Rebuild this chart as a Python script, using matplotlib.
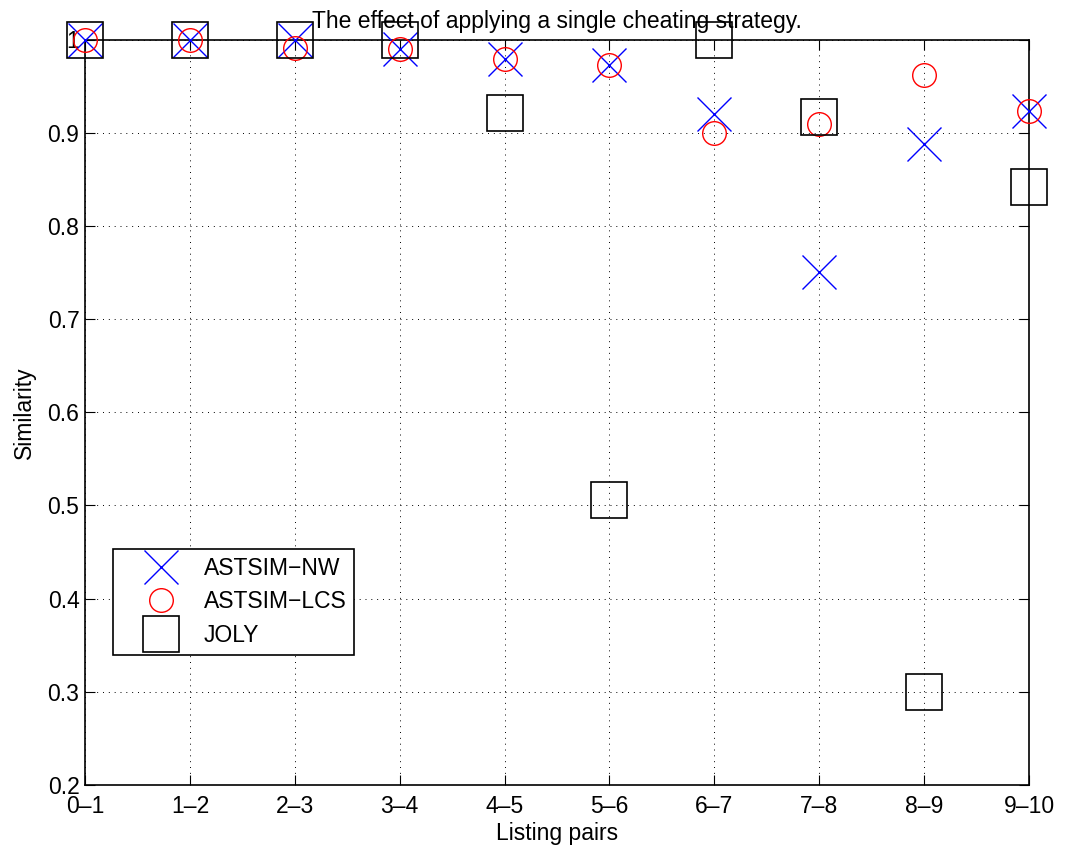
import matplotlib
matplotlib.use("Agg")
import matplotlib.pyplot as plt

plt.rcParams['font.family'] = ['Liberation Sans', 'DejaVu Sans']

pairs = ["0\u20131", "1\u20132", "2\u20133", "3\u20134", "4\u20135",
         "5\u20136", "6\u20137", "7\u20138", "8\u20139", "9\u201310"]
astsim_nw = [1.0, 1.0, 1.0, 0.990, 0.979, 0.973, 0.920, 0.750, 0.888, 0.923]
astsim_lcs = [1.0, 1.0, 0.991, 0.990, 0.979, 0.973, 0.900, 0.909, 0.962, 0.923]
joly = [1.0, 1.0, 1.0, 1.0, 0.921, 0.506, 1.0, 0.917, 0.300, 0.842]
y_ticks = [0.2, 0.3, 0.4, 0.5, 0.6, 0.7, 0.8, 0.9, 1.0]
y_tick_labels = ["0.2", "0.3", "0.4", "0.5", "0.6", "0.7", "0.8", "0.9", "1"]

FS = 16.5

fig = plt.figure(figsize=(10.67, 8.49), dpi=100)
ax = fig.add_axes([85 / 1067, 1 - 785 / 849, (1029 - 85) / 1067, (785 - 39.5) / 849])

x = list(range(len(pairs)))
ax.plot(x, astsim_nw, linestyle='none', marker='x', markersize=24,
        markeredgewidth=1.0, color='#0000ff', label='ASTSIM\u2212NW', clip_on=False, zorder=3)
ax.plot(x, astsim_lcs, linestyle='none', marker='o', markersize=17,
        markeredgewidth=1.0, markerfacecolor='none', markeredgecolor='#ff0000',
        label='ASTSIM\u2212LCS', clip_on=False, zorder=3)
ax.plot(x, joly, linestyle='none', marker='s', markersize=26,
        markeredgewidth=1.2, markerfacecolor='none', markeredgecolor='black',
        label='JOLY', clip_on=False, zorder=3)

ax.set_xlim(0, len(pairs) - 1)
ax.set_ylim(0.2, 1.0)
ax.set_xticks(x)
ax.set_xticklabels(pairs)
ax.set_yticks(y_ticks)
ax.set_yticklabels(y_tick_labels)
ax.tick_params(direction='in', length=7, width=0.8, top=True, right=True,
               labelsize=FS, colors='black')
ax.tick_params(axis='x', pad=7)
ax.tick_params(axis='y', pad=4)
ax.grid(True, linestyle=(0, (1, 5)), color='black', linewidth=0.7)
for s in ax.spines.values():
    s.set_linewidth(1.2)

ax.set_title("The effect of applying a single cheating strategy.", fontsize=FS, pad=8)
ax.set_xlabel("Listing pairs", fontsize=FS, labelpad=3)
ax.set_ylabel("Similarity", fontsize=FS, labelpad=8)

leg = ax.legend(loc='upper left', bbox_to_anchor=((113 - 85) / 944, (785 - 549) / 745.5),
                frameon=True, fancybox=False, edgecolor='black', fontsize=FS,
                borderpad=0.35, labelspacing=0.45, handletextpad=0.1, borderaxespad=0,
                handlelength=3.5, markerscale=1.0)
leg.get_frame().set_linewidth(1.2)
leg.get_frame().set_alpha(1)

fig.savefig("out.png", dpi=100)
